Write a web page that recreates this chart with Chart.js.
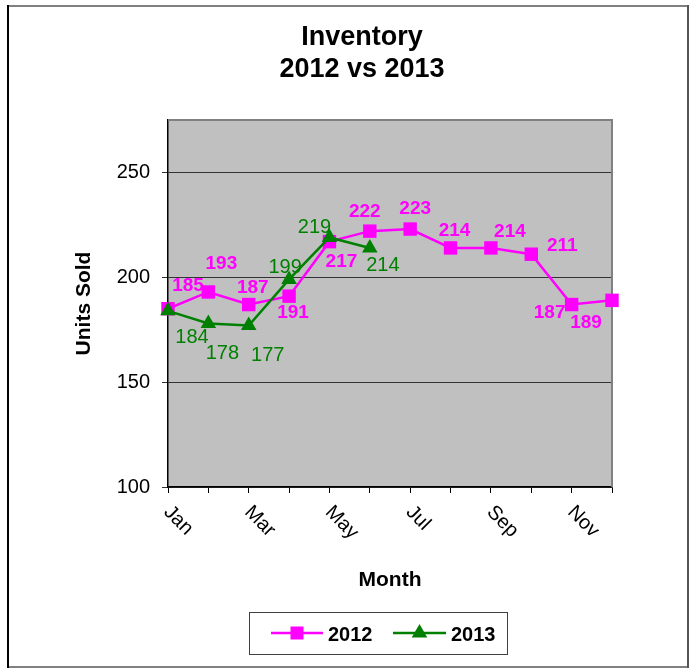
<!DOCTYPE html>
<html><head><meta charset="utf-8">
<script src="https://cdn.jsdelivr.net/npm/chart.js@4.4.0/dist/chart.umd.min.js"></script>
<style>html,body{margin:0;padding:0;background:#fff;} canvas{display:block;}</style>
</head><body>
<canvas id="c" width="689" height="669"></canvas>
<script>
const months = ['Jan','Feb','Mar','Apr','May','Jun','Jul','Aug','Sep','Oct','Nov','Dec'];
const sales2012 = [185,193,187,191,217,222,223,214,214,211,187,189];
const sales2013 = [184,178,177,199,219,214];
const yTicks = [100,150,200,250];
const shownMonthLabels = ['Jan','Mar','May','Jul','Sep','Nov'];
const titleLines = ['Inventory','2012 vs 2013'];
// label placement (px offsets from each point)
const labelOffsets2012 = [[20,-23],[13,-28],[4,-17],[4,17],[12,20],[-5,-19],[5,-20],[4,-17],[19,-16],[31,-8],[-22,8],[-26,22]];
const labelOffsets2013 = [[24,27],[14,30],[19,30],[-4,-12],[-15,-10],[13,18]];

const FONT = '"Liberation Sans", Arial, Helvetica, sans-serif';
const PINK = '#FF00FF', GREEN = '#008000';

const framePlugin = {
  id: 'frame',
  beforeDraw(chart) {
    const {ctx, chartArea: a} = chart;
    ctx.save();
    ctx.fillStyle = '#fff';
    ctx.fillRect(0, 0, chart.width, chart.height);
    ctx.fillStyle = '#C0C0C0';
    ctx.fillRect(a.left, a.top, a.right - a.left, a.bottom - a.top);
    ctx.restore();
  },
  beforeDatasetsDraw(chart) {
    const {ctx, chartArea: a} = chart;
    ctx.save();
    ctx.strokeStyle = '#808080';
    ctx.lineWidth = 2;
    ctx.beginPath();
    ctx.moveTo(a.left, a.top);
    ctx.lineTo(a.right, a.top);
    ctx.lineTo(a.right, a.bottom);
    ctx.stroke();
    ctx.restore();
  },
  afterDatasetsDraw(chart) {
    const {ctx} = chart;
    ctx.save();
    ctx.textAlign = 'center';
    ctx.textBaseline = 'middle';
    chart.data.datasets.forEach((ds, i) => {
      const meta = chart.getDatasetMeta(i);
      ctx.fillStyle = ds.borderColor;
      ctx.font = ds.labelFont;
      meta.data.forEach((pt, j) => {
        const off = ds.labelOffsets[j] || [0, -18];
        ctx.fillText(String(ds.data[j]), pt.x + off[0], pt.y + off[1]);
      });
    });
    ctx.restore();
  },
  afterDraw(chart) {
    const {ctx, chartArea: a} = chart;
    const xs = chart.scales.x;
    ctx.save();
    // title
    ctx.fillStyle = '#000';
    ctx.font = 'bold 27px ' + FONT;
    ctx.textAlign = 'center';
    ctx.textBaseline = 'alphabetic';
    ctx.fillText(titleLines[0], 362, 45);
    ctx.fillText(titleLines[1], 362, 77);
    // rotated x labels
    ctx.font = '20px ' + FONT;
    ctx.textAlign = 'left';
    chart.data.labels.forEach((lab, i) => {
      if (!shownMonthLabels.includes(lab)) return;
      const x = xs.getPixelForValue(i);
      ctx.save();
      ctx.translate(x - 5, a.bottom + 26);
      ctx.rotate(Math.PI / 4);
      ctx.fillText(lab, 0, 0);
      ctx.restore();
    });
    // legend
    ctx.fillStyle = '#fff';
    ctx.fillRect(249, 612, 259, 42);
    ctx.strokeStyle = '#404040';
    ctx.lineWidth = 1;
    ctx.strokeRect(249.5, 612.5, 258, 42);
    const ly = 633;
    const items = [
      {ds: chart.data.datasets[0], x0: 271, x1: 323, tx: 328},
      {ds: chart.data.datasets[1], x0: 393, x1: 446, tx: 451}
    ];
    items.forEach(it => {
      ctx.strokeStyle = it.ds.borderColor;
      ctx.fillStyle = it.ds.borderColor;
      ctx.lineWidth = 2.5;
      ctx.beginPath(); ctx.moveTo(it.x0, ly); ctx.lineTo(it.x1, ly); ctx.stroke();
      const cx = (it.x0 + it.x1) / 2;
      if (it.ds.pointStyle === 'rect') {
        ctx.fillRect(cx - 6.5, ly - 6.5, 13, 13);
      } else {
        const r = 9;
        ctx.beginPath();
        ctx.moveTo(cx, ly - r);
        ctx.lineTo(cx + r * Math.sin(2 * Math.PI / 3), ly + r / 2);
        ctx.lineTo(cx - r * Math.sin(2 * Math.PI / 3), ly + r / 2);
        ctx.closePath(); ctx.fill();
      }
      ctx.fillStyle = '#000';
      ctx.font = 'bold 20px ' + FONT;
      ctx.textAlign = 'left';
      ctx.textBaseline = 'alphabetic';
      ctx.fillText(it.ds.label, it.tx, 641);
    });
    // outer frame
    ctx.lineWidth = 2;
    ctx.strokeStyle = '#808080';
    ctx.beginPath(); ctx.moveTo(7, 6); ctx.lineTo(688, 6); ctx.stroke();
    ctx.beginPath(); ctx.moveTo(7, 667); ctx.lineTo(688, 667); ctx.stroke();
    ctx.strokeStyle = '#000';
    ctx.beginPath(); ctx.moveTo(8, 5); ctx.lineTo(8, 668); ctx.stroke();
    ctx.strokeStyle = '#555';
    ctx.beginPath(); ctx.moveTo(688, 5); ctx.lineTo(688, 668); ctx.stroke();
    ctx.restore();
  }
};

new Chart(document.getElementById('c'), {
  type: 'line',
  data: {
    labels: months,
    datasets: [
      {
        label: '2012', data: sales2012,
        borderColor: PINK, backgroundColor: PINK,
        borderWidth: 2.5, tension: 0, clip: false, order: 1,
        pointStyle: 'rect', pointRadius: 9.5, pointHoverRadius: 9.5, pointBorderWidth: 0,
        labelOffsets: labelOffsets2012, labelFont: 'bold 19px ' + FONT
      },
      {
        label: '2013', data: sales2013,
        borderColor: GREEN, backgroundColor: GREEN,
        borderWidth: 2.5, tension: 0, clip: false, order: 0,
        pointStyle: 'triangle', pointRadius: 9, pointHoverRadius: 9, pointBorderWidth: 0,
        labelOffsets: labelOffsets2013, labelFont: '20px ' + FONT
      }
    ]
  },
  options: {
    responsive: false, animation: false, devicePixelRatio: 1,
    events: [],
    layout: {padding: {top: 120, right: 77, bottom: 0, left: 0}},
    plugins: {legend: {display: false}, title: {display: false}, tooltip: {enabled: false}},
    scales: {
      x: {
        offset: false,
        grid: {drawOnChartArea: false, drawTicks: true, tickLength: 6, color: '#000'},
        border: {color: '#000', width: 1.5},
        ticks: {display: false, autoSkip: false},
        title: {display: true, text: 'Month', color: '#000',
          font: {family: FONT, size: 21, weight: 'bold'}, padding: {top: 0, bottom: 76}},
        afterFit: s => { s.height = 182; }
      },
      y: {
        min: 100, max: 275,
        afterBuildTicks: s => { s.ticks = yTicks.map(v => ({value: v})); },
        ticks: {font: {family: FONT, size: 20}, color: '#000', padding: 12},
        grid: {color: '#333', lineWidth: 1, drawTicks: true, tickLength: 6},
        border: {color: '#000', width: 1.5},
        title: {display: true, text: 'Units Sold', color: '#000',
          font: {family: FONT, size: 21, weight: 'bold'}, padding: {top: 72, bottom: 0}},
        afterFit: s => { s.width = 168; }
      }
    }
  },
  plugins: [framePlugin]
});
</script>
</body></html>
